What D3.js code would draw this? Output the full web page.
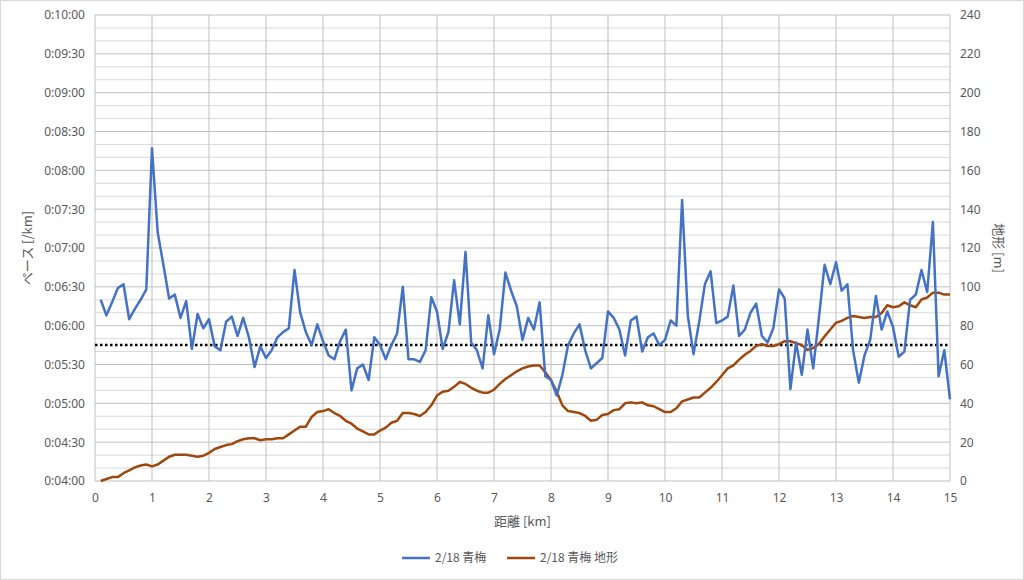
<!DOCTYPE html>
<html><head><meta charset="utf-8">
<script src="https://cdn.jsdelivr.net/npm/d3@7/dist/d3.min.js"></script>
<style>
body{margin:0;background:#fff;font-family:"Noto Sans CJK JP","Noto Sans",sans-serif;}
text{fill:#595959;}
</style></head><body>
<svg id="chart" width="1024" height="580"></svg>
<script>
// distance (km), every 0.1 km
const distance = d3.range(1, 151).map(i => i / 10);
// pace in seconds per km
const pace = [380,368,378,389,392,365,373,380,388,497, 432,407,381,384,366,379,342,369,358,365,
  344,341,363,367,352,366,351,328,344,335, 341,351,355,358,403,370,355,345,361,348,
  337,334,348,357,310,327,330,318,351,345, 334,345,354,390,334,334,332,341,382,371,
  342,355,395,361,417,347,341,327,368,338, 357,401,387,375,349,366,357,378,321,318,
  306,322,345,354,361,341,327,331,335,371, 366,357,337,364,367,340,351,354,345,349,
  364,360,457,368,338,363,392,402,362,364, 367,391,352,357,370,377,352,347,358,388,
  381,311,347,322,357,327,366,407,392,409, 387,392,341,316,337,349,383,357,371,359,
  336,340,380,384,403,386,440,321,341,303];
// elevation in metres
const elevation = [0,1,2,2,4,5.5,7,8,8.5,7.5, 8.5,10.5,12.5,13.5,13.5,13.5,13,12.5,13,14.5,
  16.5,17.5,18.5,19,20.5,21.5,22,22,21,21.5, 21.5,22,22,24,26,28,28,33,35.5,36,
  37,35,33.5,31,29.5,27,25.5,24,24,26, 27.5,30,31,35,35,34.5,33.5,35.5,39,44,
  46,46.5,48.5,51,50,48,46.5,45.5,45.5,47, 50,52.5,54.5,56.5,58,59,59.5,59.5,56,52,
  46,39,36,35.5,35,33.5,31,31.5,34,34.5, 36.5,37,40,40.5,40,40.5,39,38.5,37,35.5,
  35.5,37.5,41,42,43,43,45.5,48,51,54.5, 58,59.5,62.5,65,67,69.5,70.5,69.5,69.5,70.5,
  72,72,71,70,67.5,68.5,70.5,74.5,78,81.5, 82.5,84,85,84.5,84,84.5,84.5,86.5,90.5,89.5,
  90,92,90.5,89.5,93.5,94.5,97,97,96,96];
const targetPace = 345;
const xTicks = d3.range(0, 16);
const paceTicks = d3.range(240, 601, 30);
const elevTicks = d3.range(0, 241, 20);
const seriesNames = ["2/18 青梅", "2/18 青梅 地形"];

const svg = d3.select("#chart");
const L = 95, R = 950, T = 15, B = 481;
const x = d3.scaleLinear().domain([0, 15]).range([L, R]);
const yP = d3.scaleLinear().domain([240, 600]).range([B, T]);
const yE = d3.scaleLinear().domain([0, 240]).range([B, T]);
const fmt = s => "0:" + String(Math.floor(s / 60)).padStart(2, "0") + ":" + String(s % 60).padStart(2, "0");

svg.append("rect").attr("x", 0.5).attr("y", 0.5).attr("width", 1023).attr("height", 579)
  .attr("fill", "#fff").attr("stroke", "#d9d9d9");

// gridlines
svg.append("g").selectAll("line").data(d3.range(250, 601, 10)).join("line")
  .attr("x1", L).attr("x2", R).attr("y1", d => yP(d)).attr("y2", d => yP(d))
  .attr("stroke", d => d % 30 === 0 ? "#bfbfbf" : "#d9d9d9").attr("stroke-width", 1);
svg.append("g").selectAll("line").data(xTicks.slice(1)).join("line")
  .attr("x1", d => x(d)).attr("x2", d => x(d)).attr("y1", T).attr("y2", B)
  .attr("stroke", "#bfbfbf");
svg.append("line").attr("x1", L).attr("x2", R).attr("y1", B).attr("y2", B).attr("stroke", "#bfbfbf");
svg.append("line").attr("x1", L).attr("x2", L).attr("y1", T).attr("y2", B).attr("stroke", "#bfbfbf");

// axes
const ax = svg.append("g").attr("transform", `translate(0,${B})`)
  .call(d3.axisBottom(x).tickValues(xTicks).tickSize(0).tickPadding(12));
const al = svg.append("g").attr("transform", `translate(${L},0)`)
  .call(d3.axisLeft(yP).tickValues(paceTicks).tickFormat(fmt).tickSize(0).tickPadding(10));
const ar = svg.append("g").attr("transform", `translate(${R},0)`)
  .call(d3.axisRight(yE).tickValues(elevTicks).tickSize(0).tickPadding(10));
[ax, al, ar].forEach(g => {
  g.select(".domain").remove();
  g.selectAll("text").attr("font-size", 12).attr("fill", "#595959")
    .attr("font-family", "'Noto Sans', sans-serif");
});

// axis titles
svg.append("text").attr("x", x(7.5)).attr("y", 526).attr("text-anchor", "middle")
  .attr("font-size", 13).text("距離 [km]");
svg.append("text").attr("transform", `translate(32,${(T + B) / 2}) rotate(-90)`)
  .attr("text-anchor", "middle").attr("font-size", 13).text("ペース [/km]");
svg.append("text").attr("transform", `translate(994,${(T + B) / 2}) rotate(90)`)
  .attr("text-anchor", "middle").attr("font-size", 13).text("地形 [m]");

// target pace
svg.append("line").attr("x1", L).attr("x2", R).attr("y1", yP(targetPace)).attr("y2", yP(targetPace))
  .attr("stroke", "#000").attr("stroke-width", 2.5).attr("stroke-dasharray", "2.5,2.5");

// series
svg.append("path").datum(elevation)
  .attr("d", d3.line().x((d, i) => x(distance[i])).y(d => yE(d)))
  .attr("fill", "none").attr("stroke", "#9e480e").attr("stroke-width", 2.5).attr("stroke-linejoin", "round");
svg.append("path").datum(pace)
  .attr("d", d3.line().x((d, i) => x(distance[i])).y(d => yP(d)))
  .attr("fill", "none").attr("stroke", "#4472c4").attr("stroke-width", 2.5).attr("stroke-linejoin", "round");

// legend
const colors = ["#4472c4", "#9e480e"];
const lg = svg.append("g").selectAll("g").data(seriesNames).join("g")
  .attr("transform", (d, i) => `translate(${[402, 507][i]},558)`);
lg.append("line").attr("x1", 0).attr("x2", 28).attr("stroke", (d, i) => colors[i]).attr("stroke-width", 2.5);
lg.append("text").attr("x", 33).attr("y", 4).attr("font-size", 12).text(d => d);
</script></body></html>
